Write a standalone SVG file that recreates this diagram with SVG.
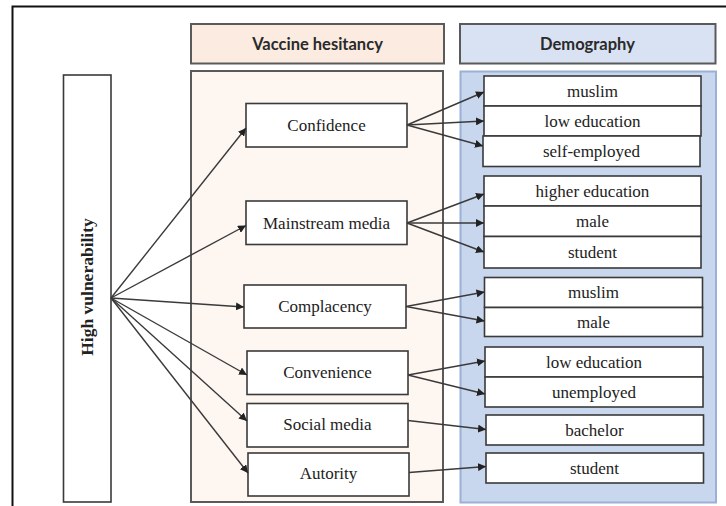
<svg xmlns="http://www.w3.org/2000/svg" width="726" height="506" viewBox="0 0 726 506">
<style>
.frame{fill:none;stroke:#111;stroke-width:2}
.hdrV{fill:#fbebe0;stroke:#5a5a5a;stroke-width:2}
.bodyV{fill:#fdf6f1;stroke:#5a5a5a;stroke-width:2}
.hdrD{fill:#d8e2f3;stroke:#5a5a5a;stroke-width:2}
.bodyD{fill:#c8d6ee;stroke:#9bb0d6;stroke-width:2}
.box{fill:#fff;stroke:#3a3a3a;stroke-width:1.6}
.ht{font-family:"Lato","Liberation Sans",sans-serif;font-weight:700;font-size:16.5px;fill:#2a2a2a;text-anchor:middle}
.t{font-family:"Liberation Serif","Times New Roman",serif;font-size:17px;fill:#222;text-anchor:middle}
.vt{font-family:"Liberation Serif","Times New Roman",serif;font-weight:700;font-size:17.5px;fill:#222;text-anchor:middle}
.c{stroke:#3a3a3a;stroke-width:1.4;fill:none;marker-end:url(#ah)}
</style>
<defs>
<marker id="ah" viewBox="0 0 10 10" refX="10" refY="5" markerWidth="8" markerHeight="8" markerUnits="userSpaceOnUse" orient="auto">
<path d="M0,0 L10,5 L0,10 z" fill="#222"/>
</marker>
</defs>
<rect width="726" height="506" fill="#fff"/>
<rect class="frame" x="12.5" y="6.5" width="730" height="520"/>

<g id="header-vaccine">
<rect class="hdrV" x="191" y="24" width="253" height="39.5"/>
<text class="ht" x="317.5" y="49.5">Vaccine hesitancy</text>
</g>
<g id="header-demography">
<rect class="hdrD" x="460" y="24" width="255.5" height="39.5"/>
<text class="ht" x="587.5" y="49.5">Demography</text>
</g>
<g id="panel-vaccine"><rect class="bodyV" x="191" y="71" width="252" height="431"/></g>
<g id="panel-demography"><rect class="bodyD" x="460.5" y="71.5" width="255.5" height="431"/></g>

<g id="high-vulnerability">
<rect class="box" x="63.5" y="75" width="47.5" height="427"/>
<text class="vt" transform="translate(93,287) rotate(-90)">High vulnerability</text>
</g>

<g id="confidence"><rect class="box" x="246" y="103.5" width="161" height="43.5"/><text class="t" x="326.5" y="131">Confidence</text></g>
<g id="mainstream-media"><rect class="box" x="246" y="201" width="161" height="43.5"/><text class="t" x="326.5" y="228.5">Mainstream media</text></g>
<g id="complacency"><rect class="box" x="244" y="285" width="162" height="43"/><text class="t" x="325" y="312">Complacency</text></g>
<g id="convenience"><rect class="box" x="247" y="351" width="161" height="43.5"/><text class="t" x="327.5" y="378">Convenience</text></g>
<g id="social-media"><rect class="box" x="247" y="403.5" width="161" height="43.5"/><text class="t" x="327.5" y="430">Social media</text></g>
<g id="autority"><rect class="box" x="248" y="453" width="161" height="43"/><text class="t" x="328.5" y="479">Autority</text></g>

<g id="d-muslim-1"><rect class="box" x="484" y="76" width="217" height="30"/><text class="t" x="592.5" y="97">muslim</text></g>
<g id="d-low-education-1"><rect class="box" x="484" y="106" width="217" height="30"/><text class="t" x="592.5" y="127">low education</text></g>
<g id="d-self-employed"><rect class="box" x="483" y="136" width="217" height="30.5"/><text class="t" x="591.5" y="157">self-employed</text></g>
<g id="d-higher-education"><rect class="box" x="484" y="176" width="217" height="30"/><text class="t" x="592.5" y="197">higher education</text></g>
<g id="d-male-1"><rect class="box" x="484" y="206" width="217" height="30.5"/><text class="t" x="592.5" y="227">male</text></g>
<g id="d-student-1"><rect class="box" x="484" y="236.5" width="217" height="31.5"/><text class="t" x="592.5" y="258">student</text></g>
<g id="d-muslim-2"><rect class="box" x="484.5" y="277.5" width="218" height="30"/><text class="t" x="593.5" y="298">muslim</text></g>
<g id="d-male-2"><rect class="box" x="484.5" y="307.5" width="218" height="29"/><text class="t" x="593.5" y="328">male</text></g>
<g id="d-low-education-2"><rect class="box" x="485" y="347" width="218" height="30"/><text class="t" x="594" y="368">low education</text></g>
<g id="d-unemployed"><rect class="box" x="485" y="377" width="218" height="30"/><text class="t" x="594" y="398">unemployed</text></g>
<g id="d-bachelor"><rect class="box" x="486" y="415" width="217.5" height="30"/><text class="t" x="594.5" y="436">bachelor</text></g>
<g id="d-student-2"><rect class="box" x="486" y="453" width="217.5" height="30"/><text class="t" x="594.5" y="474">student</text></g>

<g id="connectors">
<line class="c" x1="111" y1="298" x2="246" y2="128"/>
<line class="c" x1="111" y1="298" x2="246" y2="225.5"/>
<line class="c" x1="111" y1="298" x2="244" y2="307"/>
<line class="c" x1="111" y1="298" x2="247" y2="375"/>
<line class="c" x1="111" y1="298" x2="247" y2="421"/>
<line class="c" x1="111" y1="298" x2="248" y2="473"/>

<line class="c" x1="407" y1="125" x2="484" y2="92"/>
<line class="c" x1="407" y1="125" x2="484" y2="121"/>
<line class="c" x1="407" y1="125" x2="483" y2="146"/>
<line class="c" x1="407" y1="223" x2="484" y2="194"/>
<line class="c" x1="407" y1="223" x2="484" y2="223"/>
<line class="c" x1="407" y1="223" x2="484" y2="252"/>
<line class="c" x1="406" y1="306.5" x2="484.5" y2="292"/>
<line class="c" x1="406" y1="306.5" x2="484.5" y2="321"/>
<line class="c" x1="408" y1="375" x2="485" y2="361"/>
<line class="c" x1="408" y1="375" x2="485" y2="394"/>
<line class="c" x1="408" y1="420.5" x2="486" y2="429.5"/>
<line class="c" x1="409" y1="472.5" x2="486" y2="466.5"/>
</g>
</svg>
